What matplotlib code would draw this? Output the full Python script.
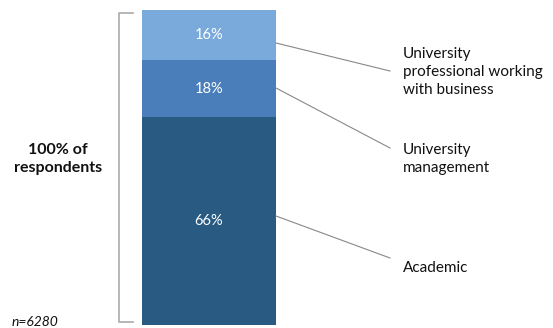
import matplotlib
matplotlib.use("Agg")
import matplotlib.pyplot as plt
from matplotlib.lines import Line2D

categories = ["Academic", "University management", "University professional working with business"]
label_texts = ["Academic", "University\nmanagement", "University\nprofessional working\nwith business"]
values = [66, 18, 16]
value_labels = ["66%", "18%", "16%"]
colors = ["#285a82", "#4a7ebb", "#7aaadc"]

W, H = 553, 328
fig = plt.figure(figsize=(W / 100, H / 100), dpi=100)
plt.rcParams['font.family'] = ['Lato', 'DejaVu Sans']

def fx(px):
    return px / W

def fy(py):
    return 1 - py / H

bar_left, bar_right, bar_top, bar_bot = 142, 276, 10, 325
ax = fig.add_axes([fx(bar_left), fy(bar_bot), fx(bar_right - bar_left), (bar_bot - bar_top) / H])
ax.set_xlim(-0.5, 0.5)
ax.set_ylim(0, sum(values))
ax.axis("off")

bottom = 0
for v, lab, c in zip(values, value_labels, colors):
    ax.bar(0, v, width=1.0, bottom=bottom, color=c, edgecolor="none")
    ax.text(0, bottom + v / 2, lab, ha="center", va="center", color="white", fontsize=10.5)
    bottom += v

# connector lines and labels
starts = [216, 88, 43]
ends = [258, 148, 71]
text_y = [268, 159, 72]
for s, e, ty, t in zip(starts, ends, text_y, label_texts):
    fig.add_artist(Line2D([fx(bar_right), fx(390)], [fy(s), fy(e)], color="#888888", lw=0.8))
    fig.text(fx(403), fy(ty), t, ha="left", va="center", fontsize=11, color="#111111", linespacing=1.38)

# bracket
bx0, bx1, by0, by1 = 119, 133, 13, 322
fig.add_artist(Line2D([fx(bx1), fx(bx0), fx(bx0), fx(bx1)], [fy(by0), fy(by0), fy(by1), fy(by1)],
                      color="#aaaaaa", lw=1.2))

fig.text(fx(58), fy(159), "100% of\nrespondents", ha="center", va="center", fontsize=11.5,
         fontweight="bold", color="#111111", linespacing=1.35)
fig.text(fx(12), fy(322), "n=6280", ha="left", va="center", fontsize=10, style="italic", color="#111111")

fig.savefig("out.png", dpi=100)
